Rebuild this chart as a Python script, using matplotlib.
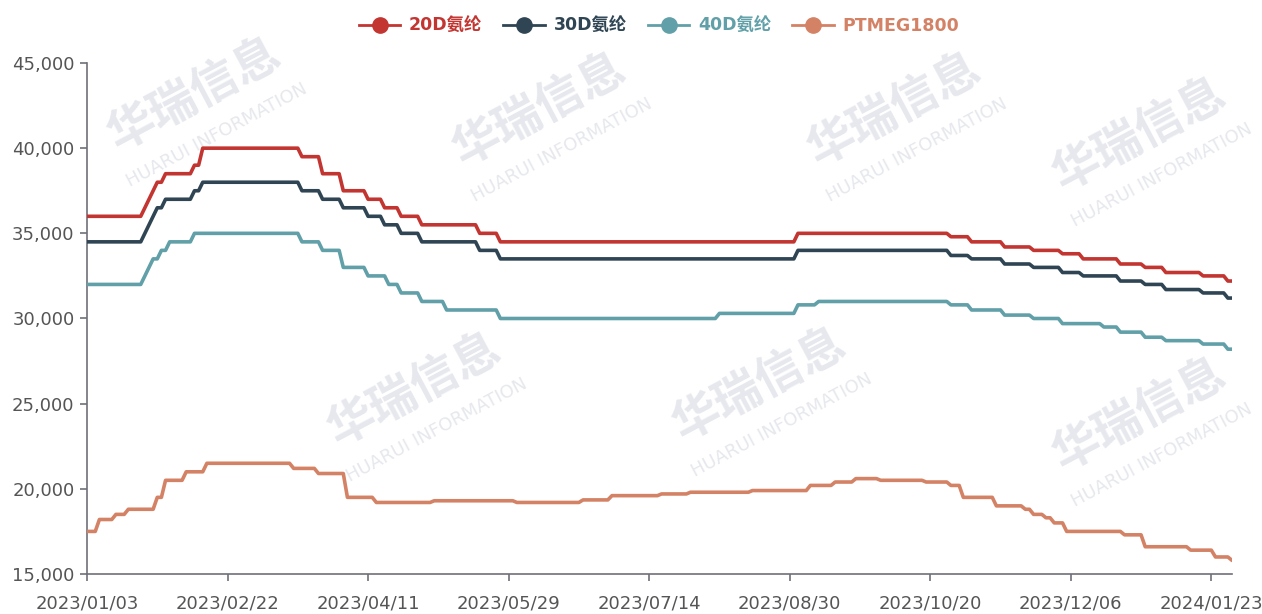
import matplotlib
matplotlib.use('Agg')
import matplotlib.pyplot as plt
from matplotlib.lines import Line2D
from matplotlib.ticker import FuncFormatter

W, H = 1262, 614

# ---------------- data ----------------
x_labels = ['2023/01/03', '2023/02/22', '2023/04/11', '2023/05/29', '2023/07/14',
            '2023/08/30', '2023/10/20', '2023/12/06', '2024/01/23']
label_step = 34          # categories between labelled ticks
last_index = 277         # index of last category

series_names = ['20D氨纶', '30D氨纶', '40D氨纶', 'PTMEG1800']
series_colors = ['#c23531', '#2f4554', '#61a0a8', '#d48265']

# runs: (first category index, price) -- price holds until next run starts
runs_20d = [(0, 36000), (14, 36500), (15, 37000), (16, 37500), (17, 38000), (19, 38500),
            (26, 39000), (28, 40000), (52, 39500), (57, 38500), (62, 37500), (68, 37000),
            (72, 36500), (76, 36000), (81, 35500), (95, 35000), (100, 34500), (172, 35000),
            (209, 34800), (214, 34500), (222, 34200), (229, 34000), (236, 33800), (241, 33500),
            (250, 33200), (256, 33000), (261, 32700), (270, 32500), (276, 32200)]
runs_30d = [(0, 34500), (14, 35000), (15, 35500), (16, 36000), (17, 36500), (19, 37000),
            (26, 37500), (28, 38000), (52, 37500), (57, 37000), (62, 36500), (68, 36000),
            (72, 35500), (76, 35000), (81, 34500), (95, 34000), (100, 33500), (172, 34000),
            (209, 33700), (214, 33500), (222, 33200), (229, 33000), (236, 32700), (241, 32500),
            (250, 32200), (256, 32000), (261, 31700), (270, 31500), (276, 31200)]
runs_40d = [(0, 32000), (14, 32500), (15, 33000), (16, 33500), (18, 34000), (20, 34500),
            (26, 35000), (52, 34500), (57, 34000), (62, 33000), (68, 32500), (73, 32000),
            (76, 31500), (81, 31000), (87, 30500), (100, 30000), (153, 30300), (172, 30800),
            (177, 31000), (209, 30800), (214, 30500), (222, 30200), (229, 30000), (236, 29700),
            (246, 29500), (250, 29200), (256, 28900), (261, 28700), (270, 28500), (276, 28200)]
runs_ptmeg = [(0, 17500), (3, 18200), (7, 18500), (10, 18800), (17, 19500), (19, 20500),
              (24, 21000), (29, 21500), (50, 21200), (56, 20900), (63, 19500), (70, 19200),
              (84, 19300), (104, 19200), (120, 19350), (127, 19600), (139, 19700), (146, 19800),
              (161, 19900), (175, 20200), (181, 20400), (186, 20600), (192, 20500), (203, 20400),
              (209, 20200), (212, 19500), (220, 19000), (227, 18800), (229, 18500), (232, 18300),
              (234, 18000), (237, 17500), (251, 17300), (256, 16600), (267, 16400), (273, 16000),
              (277, 15800)]

y_min, y_max, y_step = 15000, 45000, 5000


def runs_to_points(runs, last):
    xs, ys = [], []
    for i, (s, v) in enumerate(runs):
        e = runs[i + 1][0] - 1 if i + 1 < len(runs) else last
        xs.append(s); ys.append(v)
        if e > s:
            xs.append(e); ys.append(v)
    return xs, ys


plt.rcParams['font.family'] = ['DejaVu Sans', 'Noto Sans CJK SC']

fig = plt.figure(figsize=(W / 100, H / 100), dpi=100)
fig.patch.set_facecolor('white')

# watermarks
wm_color = '#e6e8ed'
wm_pos = [(195, 95), (540, 110), (895, 110), (1140, 135), (415, 390), (760, 385), (1140, 415)]
for (px, py) in wm_pos:
    fig.text(px / W, 1 - py / H, '华瑞信息', fontsize=34, fontweight='bold', color=wm_color,
             rotation=28, ha='center', va='center', family=['Noto Sans CJK SC'], zorder=-5)
    fig.text((px + 22) / W, 1 - (py + 40) / H, 'HUARUI INFORMATION', fontsize=13, color=wm_color,
             rotation=28, ha='center', va='center', zorder=-5)

ax = fig.add_axes([87 / W, 40 / H, (1232 - 87) / W, 511 / H])
ax.patch.set_alpha(0)

all_runs = [runs_20d, runs_30d, runs_40d, runs_ptmeg]
handles = []
for runs, name, c in zip(all_runs, series_names, series_colors):
    xs, ys = runs_to_points(runs, last_index)
    ax.plot(xs, ys, color=c, lw=2.6, solid_joinstyle='round', solid_capstyle='round', zorder=3)
    handles.append(Line2D([0], [0], color=c, lw=2, marker='o', markersize=11,
                          markerfacecolor=c, markeredgecolor=c))

ax.set_xlim(0, last_index)
ax.set_ylim(y_min, y_max)
ax.set_xticks([i * label_step for i in range(len(x_labels))])
ax.set_xticklabels(x_labels)
ax.set_yticks(range(y_min, y_max + 1, y_step))
ax.yaxis.set_major_formatter(FuncFormatter(lambda v, p: f'{int(v):,}'))

axis_color = '#6e7079'
for s in ['top', 'right']:
    ax.spines[s].set_visible(False)
for s in ['left', 'bottom']:
    ax.spines[s].set_color(axis_color)
    ax.spines[s].set_linewidth(1.2)
ax.tick_params(axis='both', colors=axis_color, labelcolor='#555555', labelsize=13,
               length=5, width=1.2, direction='out')
ax.tick_params(axis='x', pad=10)
ax.tick_params(axis='y', pad=4)

leg = fig.legend(handles, series_names, loc='center', bbox_to_anchor=(659 / W, 1 - 26 / H),
                 ncol=4, frameon=False, handlelength=2.4, handletextpad=0.5,
                 columnspacing=1.2, prop={'weight': 'bold', 'size': 12.5,
                                          'family': ['DejaVu Sans', 'Noto Sans CJK SC']})
for t, c in zip(leg.get_texts(), series_colors):
    t.set_color(c)

fig.savefig('out.png', dpi=100, facecolor='white')
